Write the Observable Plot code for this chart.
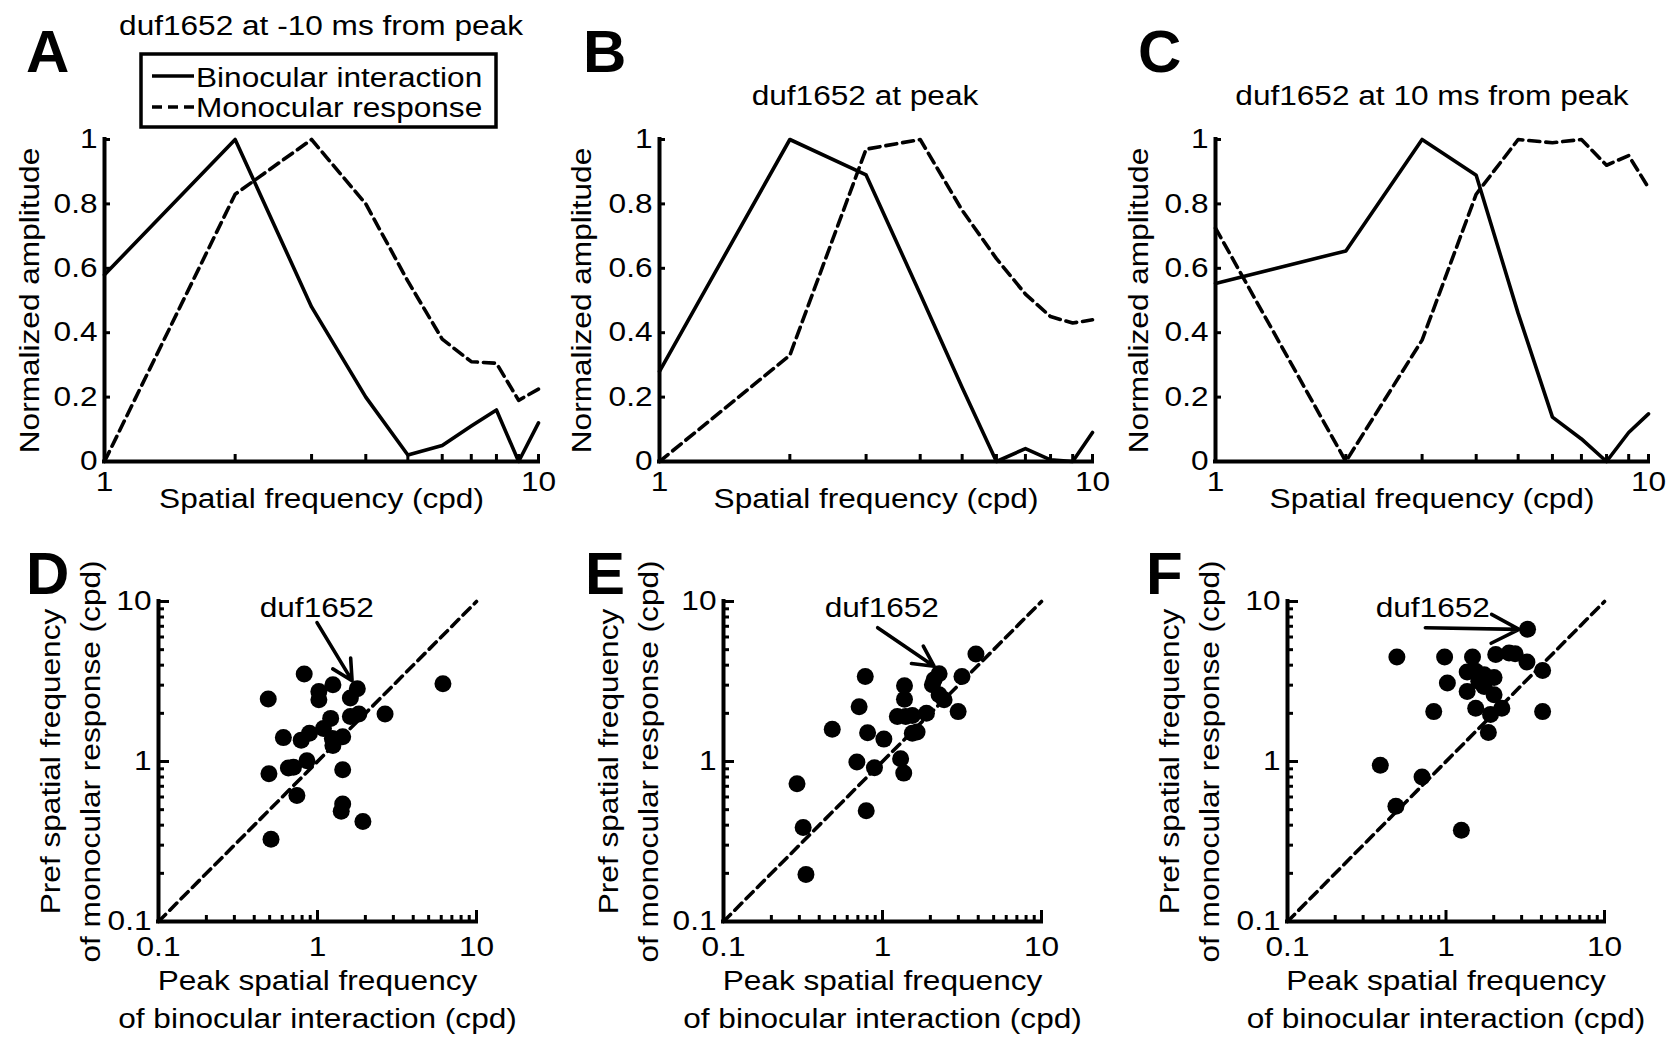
<!DOCTYPE html>
<html><head><meta charset="utf-8">
<script src="https://cdn.jsdelivr.net/npm/d3@7"></script>
<script src="https://cdn.jsdelivr.net/npm/@observablehq/plot@0.6"></script>
<style>
body{margin:0;background:#fff;}
#fig{position:relative;width:1669px;height:1038px;overflow:hidden;background:#fff;}
#fig > div{position:absolute;}
#fig svg{max-width:none !important;}
</style></head><body><div id="fig"></div>
<script>
// ---------- data ----------
const freqs = [1, 2, 3, 4, 5, 6, 7, 8, 9, 10];
const binA  = [0.58, 1.0, 0.48, 0.20, 0.02, 0.05, 0.11, 0.16, 0.0, 0.12];
const monoA = [0.0, 0.83, 1.0, 0.80, 0.56, 0.38, 0.31, 0.305, 0.19, 0.225];
const binB  = [0.28, 1.0, 0.89, 0.52, 0.23, 0.0, 0.04, 0.005, 0.0, 0.09];
const monoB = [0.0, 0.33, 0.97, 1.0, 0.78, 0.63, 0.52, 0.45, 0.43, 0.44];
const binC  = [0.553, 0.654, 1.0, 0.889, 0.46, 0.138, 0.07, 0.0, 0.09, 0.148];
const monoC = [0.725, 0.0, 0.377, 0.83, 1.0, 0.99, 1.0, 0.92, 0.95, 0.85];

const dX = [0.825, 1.25, 1.78, 1.61, 1.02, 1.02, 0.49, 6.15, 2.66, 1.21, 1.61, 1.82, 0.61, 0.79, 0.89, 1.09, 1.24, 1.25, 1.44, 0.858, 0.706, 0.656, 0.495, 1.44, 0.742, 1.44, 1.41, 1.93, 0.51];
const dY = [3.52, 3.02, 2.85, 2.49, 2.74, 2.43, 2.46, 3.06, 1.98, 1.86, 1.91, 1.98, 1.41, 1.36, 1.50, 1.61, 1.39, 1.26, 1.43, 1.01, 0.92, 0.91, 0.838, 0.889, 0.613, 0.543, 0.488, 0.422, 0.327];
const eX = [3.87, 3.16, 2.27, 2.06, 2.11, 2.44, 2.27, 2.99, 0.779, 1.375, 1.375, 0.713, 1.24, 1.40, 1.54, 1.89, 0.483, 0.806, 1.02, 1.54, 1.65, 0.69, 0.89, 1.30, 1.36, 0.29, 0.79, 0.317, 0.33];
const eY = [4.70, 3.40, 3.54, 3.02, 3.24, 2.43, 2.61, 2.05, 3.40, 2.97, 2.45, 2.20, 1.91, 1.91, 1.94, 2.00, 1.59, 1.51, 1.38, 1.50, 1.53, 0.993, 0.915, 1.04, 0.846, 0.725, 0.493, 0.387, 0.197];
const fX = [3.27, 0.49, 0.98, 1.47, 2.06, 2.50, 2.73, 3.24, 4.07, 4.07, 1.02, 1.36, 1.54, 1.74, 2.01, 1.61, 1.74, 1.36, 2.01, 1.54, 2.25, 1.91, 0.837, 1.85, 0.385, 0.706, 0.483, 1.25];
const fY = [6.70, 4.50, 4.50, 4.50, 4.66, 4.77, 4.72, 4.19, 3.70, 2.05, 3.09, 3.63, 3.66, 3.49, 3.35, 3.17, 2.94, 2.74, 2.61, 2.15, 2.15, 1.97, 2.05, 1.52, 0.946, 0.799, 0.525, 0.372];

// annotation anchors (data units): text x,y ; arrow x1,y1 -> x2,y2
const noteD = {tx: 0.99, ty: 9.1, x1: 0.993, y1: 7.38, x2: 1.65, y2: 3.20};
const noteE = {tx: 0.99, ty: 9.1, x1: 0.932, y1: 6.86, x2: 2.11, y2: 3.94};
const noteF = {tx: 0.825, ty: 9.1, x1: 0.741, y1: 6.86, x2: 2.89, y2: 6.70};
const noteLabel = "duf1652";

const yTicksTop = [0, 0.2, 0.4, 0.6, 0.8, 1];
const xLabelsTop = [1, 10];
const xMinorTop = [2, 3, 4, 5, 6, 7, 8, 9, 10];
const logMajor = [0.1, 1, 10];
const logMinor = [0.2, 0.3, 0.4, 0.5, 0.6, 0.7, 0.8, 0.9, 2, 3, 4, 5, 6, 7, 8, 9];
const diag = [0.1, 10];

const titles = ["duf1652 at -10 ms from peak", "duf1652 at peak", "duf1652 at 10 ms from peak"];
const letters = ["A", "B", "C", "D", "E", "F"];
const seriesNames = ["Binocular interaction", "Monocular response"];
const xLabelTop = "Spatial frequency (cpd)";
const yLabelTop = "Normalized amplitude";
const xLabelScatter = ["Peak spatial frequency", "of binocular interaction (cpd)"];
const yLabelScatter = ["Pref spatial frequency", "of monocular response (cpd)"];

// ---------- drawing ----------
const FONT = '"Liberation Sans", Arial, Helvetica, sans-serif';
const FS = 27;          // glyph height size
const STRETCH = 1.17;   // glyphs in the figure are wide
const LW = 3.6, AW = 4;
const fig = document.getElementById("fig");
function place(svg, left, top) {
  const d = document.createElement("div");
  d.style.left = left + "px"; d.style.top = top + "px";
  d.style.width = svg.getAttribute("width") + "px";
  d.appendChild(svg); fig.appendChild(d);
}
const baseStyle = {fontFamily: FONT, fontSize: FS + "px", background: "transparent", overflow: "visible", color: "black", maxWidth: "none"};

function topPanel(fl, fr, ft, fb, bin, mono, ylabDx) {
  const ml = 110, mr = 40, mt = 20, mb = 70;
  const W = fr - fl, H = fb - ft;
  const data = freqs.map((f, i) => ({f, bin: bin[i], mono: mono[i]}));
  const svg = Plot.plot({
    width: W + ml + mr, height: H + mt + mb,
    marginLeft: ml, marginRight: mr, marginTop: mt, marginBottom: mb,
    style: baseStyle,
    x: {type: "log", domain: [1, 10]},
    y: {domain: [0, 1]},
    marks: [
      Plot.tickY(yTicksTop, {y: d => d, insetRight: W - 6, strokeWidth: 3, stroke: "black"}),
      Plot.tickX(xMinorTop, {x: d => d, insetTop: H - 7, strokeWidth: 3, stroke: "black"}),
      Plot.ruleX([1], {stroke: "black", strokeWidth: AW, strokeLinecap: "square"}),
      Plot.ruleY([0], {stroke: "black", strokeWidth: AW, strokeLinecap: "square"}),
      Plot.axisY(yTicksTop, {tickSize: 0, tickPadding: 7, fontSize: FS, label: null, tickFormat: d => String(d)}),
      Plot.axisX(xLabelsTop, {tickSize: 0, tickPadding: 10, fontSize: FS, label: null, tickFormat: d => String(d)}),
      Plot.line(data, {x: "f", y: "bin", stroke: "black", strokeWidth: LW}),
      Plot.line(data, {x: "f", y: "mono", stroke: "black", strokeWidth: LW, strokeDasharray: "11,6"}),
      Plot.text([xLabelTop], {frameAnchor: "bottom", dy: 38, text: d => d, fontSize: FS, lineAnchor: "middle", textAnchor: "middle"}),
      Plot.text([yLabelTop], {frameAnchor: "left", dx: ylabDx, rotate: -90, text: d => d, fontSize: FS, lineAnchor: "middle", textAnchor: "middle"})
    ]
  });
  place(svg, fl - ml, ft - mt);
}

function scatterPanel(fl, fr, ft, fb, xs, ys, note, ylabDx1, ylabDx2) {
  const ml = 140, mr = 40, mt = 30, mb = 115;
  const W = fr - fl, H = fb - ft;
  const pts = xs.map((x, i) => ({x, y: ys[i]}));
  const svg = Plot.plot({
    width: W + ml + mr, height: H + mt + mb,
    marginLeft: ml, marginRight: mr, marginTop: mt, marginBottom: mb,
    style: baseStyle,
    x: {type: "log", domain: [0.1, 10]},
    y: {type: "log", domain: [0.1, 10]},
    marks: [
      Plot.tickY(logMinor, {y: d => d, insetRight: W - 6, strokeWidth: 3, stroke: "black"}),
      Plot.tickY(logMajor, {y: d => d, insetRight: W - 11, strokeWidth: 3, stroke: "black"}),
      Plot.tickX(logMinor, {x: d => d, insetTop: H - 6, strokeWidth: 3, stroke: "black"}),
      Plot.tickX(logMajor, {x: d => d, insetTop: H - 11, strokeWidth: 3, stroke: "black"}),
      Plot.ruleX([0.1], {stroke: "black", strokeWidth: AW, strokeLinecap: "square"}),
      Plot.ruleY([0.1], {stroke: "black", strokeWidth: AW, strokeLinecap: "square"}),
      Plot.axisY(logMajor, {tickSize: 0, tickPadding: 7, fontSize: FS, label: null, tickFormat: d => String(d)}),
      Plot.axisX(logMajor, {tickSize: 0, tickPadding: 15, fontSize: FS, label: null, tickFormat: d => String(d)}),
      Plot.line(diag, {x: d => d, y: d => d, stroke: "black", strokeWidth: LW, strokeDasharray: "10,6"}),
      Plot.dot(pts, {x: "x", y: "y", r: 8.5, fill: "black", stroke: "none"}),
      Plot.arrow([note], {x1: "x1", y1: "y1", x2: "x2", y2: "y2", stroke: "black", strokeWidth: LW, headLength: 15, headAngle: 55}),
      Plot.text([note], {x: "tx", y: "ty", text: () => noteLabel, fontSize: FS, lineAnchor: "middle"}),
      Plot.text([xLabelScatter[0]], {frameAnchor: "bottom", dy: 60, text: d => d, fontSize: FS, lineAnchor: "middle", textAnchor: "middle"}),
      Plot.text([xLabelScatter[1]], {frameAnchor: "bottom", dy: 98, text: d => d, fontSize: FS, lineAnchor: "middle", textAnchor: "middle"}),
      Plot.text([yLabelScatter[0]], {frameAnchor: "left", dx: ylabDx1, rotate: -90, text: d => d, fontSize: FS, lineAnchor: "middle", textAnchor: "middle"}),
      Plot.text([yLabelScatter[1]], {frameAnchor: "left", dx: ylabDx2, rotate: -90, text: d => d, fontSize: FS, lineAnchor: "middle", textAnchor: "middle"})
    ]
  });
  place(svg, fl - ml, ft - mt);
}

topPanel(104, 538, 139, 461, binA, monoA, -74);
topPanel(659, 1092, 139, 461, binB, monoB, -77);
topPanel(1215, 1648, 139, 461, binC, monoC, -76);
scatterPanel(158, 476, 601, 921, dX, dY, noteD, -107, -67);
scatterPanel(723, 1041, 601, 921, eX, eY, noteE, -114, -74);
scatterPanel(1287, 1604, 601, 921, fX, fY, noteF, -117, -77);

// ---------- overlay: panel letters, titles, legend ----------
const ov = d3.create("svg").attr("width", 1669).attr("height", 1038)
  .style("position", "absolute").style("left", 0).style("top", 0)
  .style("font-family", FONT).style("overflow", "visible");
const letterPos = [[26, 72], [583, 72], [1138, 72], [26, 594], [585, 594], [1146, 594]];
const lettersG = ov.append("g").attr("class", "nostretch");
letters.forEach((L, i) => lettersG.append("text").attr("x", letterPos[i][0]).attr("y", letterPos[i][1])
  .attr("font-size", 60).attr("font-weight", "bold").text(L));
const titlePos = [[321, 35], [865, 105], [1432, 105]];
titles.forEach((t, i) => ov.append("text").attr("x", titlePos[i][0]).attr("y", titlePos[i][1])
  .attr("text-anchor", "middle").attr("font-size", FS).text(t));
const lg = ov.append("g");
lg.append("rect").attr("x", 141).attr("y", 54).attr("width", 355).attr("height", 73)
  .attr("fill", "white").attr("stroke", "black").attr("stroke-width", 3.5);
lg.append("line").attr("x1", 152).attr("x2", 194).attr("y1", 76).attr("y2", 76).attr("stroke", "black").attr("stroke-width", LW);
lg.append("line").attr("x1", 152).attr("x2", 194).attr("y1", 107).attr("y2", 107).attr("stroke", "black").attr("stroke-width", LW).attr("stroke-dasharray", "10,6");
lg.append("text").attr("x", 196).attr("y", 87).attr("font-size", FS).text(seriesNames[0]);
lg.append("text").attr("x", 196).attr("y", 117).attr("font-size", FS).text(seriesNames[1]);
fig.appendChild(ov.node());

// widen glyphs along the baseline, as in the figure
fig.querySelectorAll("text").forEach(t => {
  if (t.closest(".nostretch") || t.querySelector("tspan")) return;
  const L = t.getComputedTextLength();
  if (L > 0) {
    t.setAttribute("textLength", (L * STRETCH).toFixed(2));
    t.setAttribute("lengthAdjust", "spacingAndGlyphs");
  }
});
</script>
</body></html>
